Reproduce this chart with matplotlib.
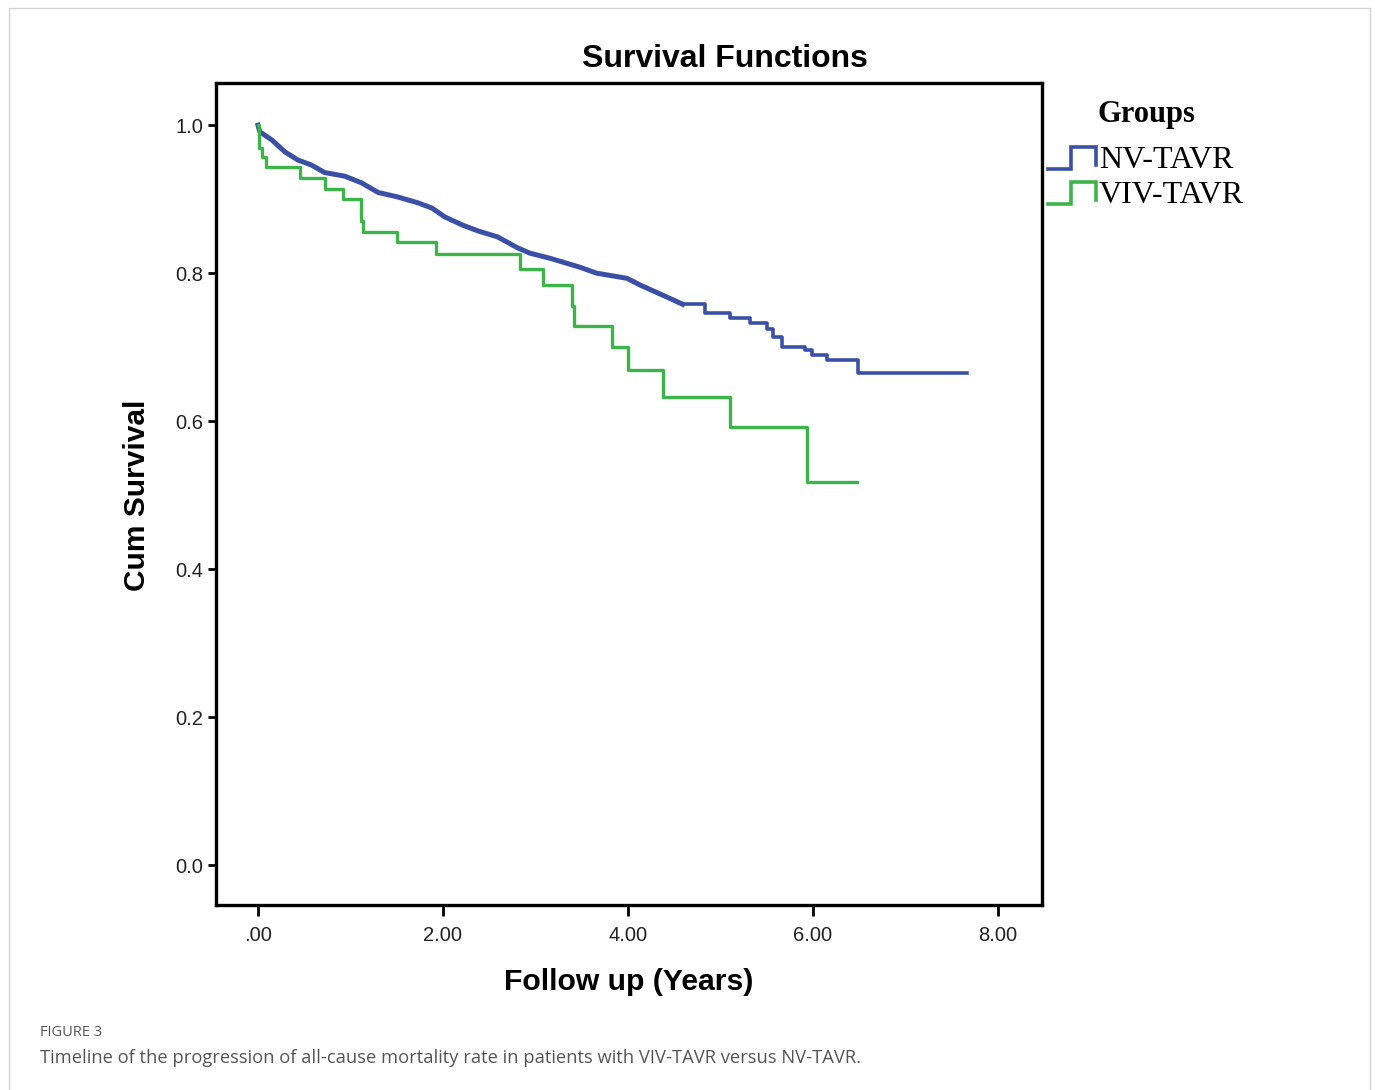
import matplotlib
matplotlib.use("Agg")
import matplotlib.pyplot as plt
from matplotlib.lines import Line2D
from matplotlib.patches import Rectangle
from matplotlib.legend_handler import HandlerBase

# ---- data ----
x_ticks = [0, 2, 4, 6, 8]
x_tick_labels = [".00", "2.00", "4.00", "6.00", "8.00"]
y_ticks = [0.0, 0.2, 0.4, 0.6, 0.8, 1.0]

group_names = ["NV-TAVR", "VIV-TAVR"]

# NV-TAVR: dense early part (many small events) then visible steps
nv_t = [0.0, 0.02, 0.15, 0.29, 0.43, 0.58, 0.72, 0.94, 1.12, 1.30, 1.51, 1.73,
        1.88, 2.02, 2.21, 2.38, 2.59, 2.81, 2.94, 3.16, 3.48, 3.66, 3.99, 4.13,
        4.38, 4.59, 4.78, 4.83, 5.10, 5.32, 5.50, 5.57, 5.66, 5.91, 5.99, 6.15,
        6.49, 7.66]
nv_s = [1.000, 0.991, 0.980, 0.964, 0.953, 0.946, 0.936, 0.931, 0.922, 0.909,
        0.903, 0.895, 0.888, 0.876, 0.865, 0.857, 0.849, 0.834, 0.827, 0.820,
        0.808, 0.800, 0.793, 0.784, 0.770, 0.758, 0.758, 0.746, 0.739, 0.732,
        0.724, 0.714, 0.700, 0.696, 0.689, 0.682, 0.665, 0.665]
nv_step_start = 25  # from this index on the curve shows distinct steps

# VIV-TAVR: step function (event times, survival after event)
viv_t = [0.0, 0.01, 0.04, 0.09, 0.45, 0.72, 0.92, 1.11, 1.14, 1.50, 1.92,
         2.83, 3.08, 3.39, 3.42, 3.83, 4.00, 4.38, 5.10, 5.94, 6.48]
viv_s = [1.000, 0.969, 0.957, 0.943, 0.928, 0.914, 0.900, 0.870, 0.855, 0.842,
         0.826, 0.805, 0.784, 0.755, 0.728, 0.700, 0.669, 0.632, 0.592, 0.518,
         0.518]

blue = "#3A4FA6"
green = "#3DB44A"

W, H = 1375, 1090
fig = plt.figure(figsize=(W / 100, H / 100), dpi=100)

# outer light border
fig.patches.append(Rectangle((9 / W, -0.01), (1370 - 9) / W, 1 - 8 / H + 0.01,
                             transform=fig.transFigure, fill=False,
                             edgecolor="#d4d4d4", lw=1.0))

ax = fig.add_axes([216 / W, 1 - 905 / H, (1042 - 216) / W, (905 - 83) / H])

ax.plot(nv_t[:nv_step_start + 1], nv_s[:nv_step_start + 1], color=blue, lw=3.6,
        solid_joinstyle="round")
ax.plot(nv_t[nv_step_start:], nv_s[nv_step_start:], color=blue, lw=2.6,
        drawstyle="steps-post")
ax.plot(viv_t, viv_s, color=green, lw=2.4, drawstyle="steps-post")

ax.set_xlim(-0.454, 8.476)
ax.set_ylim(-0.054, 1.057)
ax.set_xticks(x_ticks)
ax.set_xticklabels(x_tick_labels)
ax.set_yticks(y_ticks)
ax.set_yticklabels([f"{v:.1f}" for v in y_ticks])

for sp in ax.spines.values():
    sp.set_linewidth(2.4)
    sp.set_color("black")
ax.tick_params(axis="both", direction="out", width=2.0, colors="black",
               labelcolor="#222222", labelsize=14.5,
               labelfontfamily="Liberation Sans")
ax.tick_params(axis="x", length=8, pad=7)
ax.tick_params(axis="y", length=6, pad=3)

ax.set_xlabel("Follow up (Years)", fontsize=21.7, fontweight="bold",
              family="Liberation Sans", labelpad=17)
fig.text(137 / W, 1 - 495 / H, "Cum Survival", rotation=90, fontsize=21.5,
         fontweight="bold", family="Liberation Sans", ha="center", va="center")

fig.text(725 / W, 1 - 59 / H, "Survival Functions", fontsize=23,
         fontweight="bold", family="Liberation Sans", ha="center", va="center")


class StepHandler(HandlerBase):
    def create_artists(self, legend, orig_handle, xdescent, ydescent, width,
                       height, fontsize, trans):
        x0 = -xdescent
        y0 = -ydescent
        xs = [x0, x0 + 0.48 * width, x0 + 0.48 * width, x0 + width, x0 + width]
        ys = [y0 - 0.05 * height, y0 - 0.05 * height, y0 + 0.95 * height,
              y0 + 0.95 * height, y0 + 0.15 * height]
        ln = Line2D(xs, ys, color=orig_handle.get_color(),
                    lw=orig_handle.get_linewidth(), transform=trans,
                    solid_joinstyle="miter")
        return [ln]


handles = [Line2D([], [], color=blue, lw=2.6), Line2D([], [], color=green, lw=2.6)]
leg = fig.legend(handles, group_names, loc="upper left",
                 bbox_to_anchor=(1048 / W, 1 - 100 / H), frameon=False,
                 handler_map={Line2D: StepHandler()},
                 prop={"family": "Liberation Serif", "size": 23},
                 title="Groups",
                 title_fontproperties={"family": "Liberation Serif",
                                       "size": 22, "weight": "bold"},
                 handlelength=1.5, handletextpad=0.1, labelspacing=0.18,
                 borderpad=0, borderaxespad=0)
leg._legend_box.sep = 12

fig.text(40 / W, 1 - 1033 / H, "FIGURE 3", fontsize=10.5, color="#555555",
         family="Open Sans", ha="left", va="center")
fig.text(40 / W, 1 - 1058 / H,
         "Timeline of the progression of all-cause mortality rate in patients with VIV-TAVR versus NV-TAVR.",
         fontsize=13.2, color="#555555", family="Open Sans", ha="left",
         va="center")

fig.savefig("out.png", dpi=100)
